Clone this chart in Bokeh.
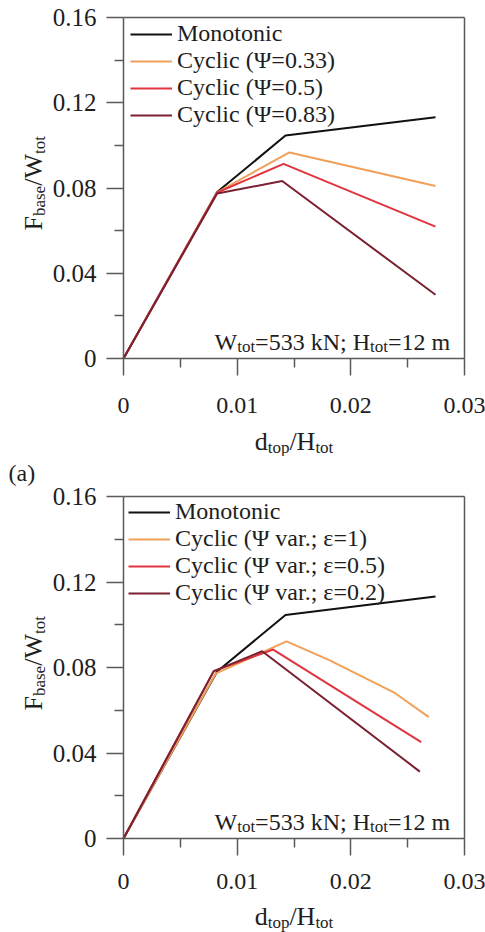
import math
from bokeh.plotting import figure
from bokeh.models import Label, FixedTicker, LinearAxis, Range1d
from bokeh.layouts import column
from bokeh.embed import file_html
from bokeh.resources import INLINE

# ---------------- data ----------------
x_ticks = [0.0, 0.01, 0.02, 0.03]
x_tick_labels = ["0", "0.01", "0.02", "0.03"]
x_minor = [0.005, 0.015, 0.025]
y_ticks = [0.0, 0.04, 0.08, 0.12, 0.16]
y_tick_labels = ["0", "0.04", "0.08", "0.12", "0.16"]
y_minor = [0.02, 0.06, 0.10, 0.14]

mono_x = [0.0, 0.00824, 0.01425, 0.02745]
mono_y = [0.0, 0.0781, 0.1046, 0.1132]

# top panel: constant Psi
a_psi033_x = [0.0, 0.00824, 0.01460, 0.02745]
a_psi033_y = [0.0, 0.0780, 0.0967, 0.0809]
a_psi05_x = [0.0, 0.00824, 0.01408, 0.02745]
a_psi05_y = [0.0, 0.0779, 0.0913, 0.0619]
a_psi083_x = [0.0, 0.00824, 0.01396, 0.02745]
a_psi083_y = [0.0, 0.0774, 0.0833, 0.0299]

# bottom panel: variable Psi
b_eps1_x = [0.0, 0.0081, 0.01434, 0.01806, 0.02378, 0.02686]
b_eps1_y = [0.0, 0.0771, 0.0922, 0.0836, 0.0684, 0.0568]
b_eps05_x = [0.0, 0.00794, 0.01317, 0.02619]
b_eps05_y = [0.0, 0.0783, 0.0884, 0.0451]
b_eps02_x = [0.0, 0.00794, 0.0122, 0.02607]
b_eps02_y = [0.0, 0.0783, 0.0876, 0.0313]

labels_a = ["Monotonic", "Cyclic (\u03a8=0.33)", "Cyclic (\u03a8=0.5)", "Cyclic (\u03a8=0.83)"]
labels_b = ["Monotonic", "Cyclic (\u03a8 var.; \u03b5=1)", "Cyclic (\u03a8 var.; \u03b5=0.5)",
            "Cyclic (\u03a8 var.; \u03b5=0.2)"]
colors = ["#111111", "#F0A058", "#E03440", "#7A2030"]

X0, X1 = x_ticks[0], x_ticks[-1]
Y0, Y1 = y_ticks[0], y_ticks[-1]

# ---------------- styling helpers ----------------
FONT = "Liberation Serif"
TXT = "#1e1e1e"
FRAME = "#5a5a5a"
W_CANVAS = 485
FRAME_LEFT = 123      # px from canvas left to x=0
FRAME_W = 341         # px between x=0 and x=0.03

# Times / Liberation Serif advance widths (1/1000 em)
CW = {" ": 250, "=": 564, "/": 278, ";": 278, ".": 250,
      "0": 500, "1": 500, "2": 500, "3": 500, "5": 500,
      "F": 556, "H": 722, "N": 722, "W": 944,
      "a": 444, "b": 500, "d": 500, "e": 444, "k": 500, "m": 778,
      "o": 500, "p": 500, "s": 389, "t": 278}


def tw(s, size):
    return sum(CW.get(c, 500) for c in s) / 1000.0 * size


def rich(p, pieces, dx, dy, x=0.0, y=0.0, rotated=False):
    off = 0.0
    for text, size, shift in pieces:
        if rotated:
            xo, yo = dx + shift, dy + off
        else:
            xo, yo = dx + off, dy - shift
        p.add_layout(Label(x=x, y=y, x_offset=xo, y_offset=yo, text=text,
                           angle=(math.pi / 2 if rotated else 0.0),
                           text_font=FONT, text_font_size=f"{size}px",
                           text_baseline="alphabetic", text_align="left",
                           text_color=TXT))
        off += tw(text, size)
    return off


def style_axis(ax, label_size, standoff):
    ax.axis_line_color = FRAME
    ax.axis_line_width = 1.5
    ax.major_tick_line_color = FRAME
    ax.major_tick_line_width = 1.5
    ax.minor_tick_line_color = FRAME
    ax.minor_tick_line_width = 1.5
    ax.major_tick_out = 17
    ax.major_tick_in = 0
    ax.minor_tick_out = 9
    ax.minor_tick_in = 0
    ax.major_label_text_font = FONT
    ax.major_label_text_font_size = label_size
    ax.major_label_text_color = TXT
    ax.major_label_standoff = standoff


def make_fig(height, frame_top, frame_h, xlab_standoff):
    kx = FRAME_W / (X1 - X0)
    ky = frame_h / (Y1 - Y0)
    xr = Range1d(X0 - FRAME_LEFT / kx, X1 + (W_CANVAS - FRAME_LEFT - FRAME_W) / kx)
    yr = Range1d(Y0 - (height - frame_top - frame_h) / ky, Y1 + frame_top / ky)
    p = figure(width=W_CANVAS, height=height, x_range=xr, y_range=yr,
               output_backend="svg", toolbar_location=None,
               min_border=0)
    p.xgrid.visible = False
    p.ygrid.visible = False
    p.outline_line_color = None
    p.background_fill_color = "white"
    p.border_fill_color = "white"
    xa = p.below[0]
    ya = p.left[0]
    xa.ticker = FixedTicker(ticks=x_ticks, minor_ticks=x_minor)
    ya.ticker = FixedTicker(ticks=y_ticks, minor_ticks=y_minor)
    xa.major_label_overrides = dict(zip(x_ticks, x_tick_labels))
    ya.major_label_overrides = dict(zip(y_ticks, y_tick_labels))
    xa.fixed_location = Y0
    ya.fixed_location = X0
    xa.bounds = (X0, X1)
    ya.bounds = (Y0, Y1)
    style_axis(xa, "24px", xlab_standoff)
    style_axis(ya, "25px", 10)
    # top and right frame edges
    for side, loc, bnd in (("above", Y1, (X0, X1)), ("right", X1, (Y0, Y1))):
        ax = LinearAxis(fixed_location=loc, bounds=bnd, ticker=FixedTicker(ticks=[]),
                        axis_line_color=FRAME, axis_line_width=1.5,
                        major_tick_line_color=None, minor_tick_line_color=None,
                        major_label_text_alpha=0)
        p.add_layout(ax, side)
    return p


def add_common(p, xt_baseline):
    # y axis title: F_base/W_tot (rotated)
    rich(p, [("F", 26, 0), ("base", 17, 6), ("/W", 26, 0), ("tot", 17, 6)],
         dx=-90, dy=128, rotated=True)
    # x axis title: d_top/H_tot (centered under frame)
    total = tw("d", 26) + tw("top", 17) + tw("/H", 26) + tw("tot", 17)
    rich(p, [("d", 26, 0), ("top", 17, 6), ("/H", 26, 0), ("tot", 17, 6)],
         dx=FRAME_W / 2 - total / 2, dy=-xt_baseline)
    # annotation
    rich(p, [("W", 24, 0), ("tot", 17, 5), ("=533 kN; H", 24, 0), ("tot", 17, 5), ("=12 m", 24, 0)],
         dx=91, dy=17)


def style_legend(p, loc):
    lg = p.legend[0]
    lg.location = loc
    lg.border_line_color = None
    lg.background_fill_alpha = 0
    lg.label_text_font = FONT
    lg.label_text_font_size = "24px"
    lg.label_text_color = TXT
    lg.glyph_width = 42
    lg.glyph_height = 20
    lg.label_standoff = 5
    lg.spacing = 0
    lg.margin = 0
    lg.padding = 0


# ---------------- top panel ----------------
p1 = make_fig(456, 17, 341, 22)
series_a = [(mono_x, mono_y), (a_psi033_x, a_psi033_y), (a_psi05_x, a_psi05_y), (a_psi083_x, a_psi083_y)]
for (xs, ys), c, lab in zip(series_a, colors, labels_a):
    p1.line(xs, ys, line_color=c, line_width=2, legend_label=lab)
style_legend(p1, (130, 328))
add_common(p1, 83)

# ---------------- bottom panel ----------------
p2 = make_fig(476, 40, 342, 18)
series_b = [(mono_x, mono_y), (b_eps1_x, b_eps1_y), (b_eps05_x, b_eps05_y), (b_eps02_x, b_eps02_y)]
for (xs, ys), c, lab in zip(series_b, colors, labels_b):
    p2.line(xs, ys, line_color=c, line_width=2, legend_label=lab)
style_legend(p2, (128, 326))
add_common(p2, 78)
p2.add_layout(Label(x=X0, y=Y1, x_offset=-115, y_offset=24, text="(a)",
                    text_font=FONT, text_font_size="24px", text_baseline="alphabetic",
                    text_align="left", text_color=TXT))

layout = column(p1, p2)
open("out.html", "w").write(file_html(layout, INLINE))
